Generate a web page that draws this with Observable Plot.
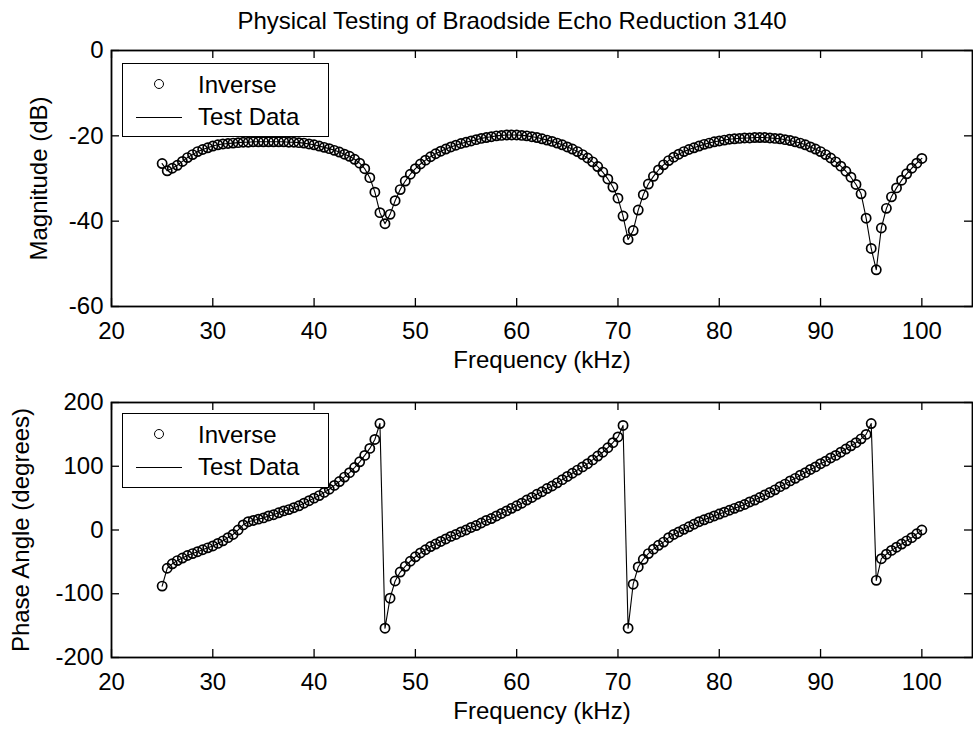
<!DOCTYPE html>
<html>
<head>
<meta charset="utf-8">
<script src="https://cdn.jsdelivr.net/npm/d3@7"></script>
<script src="https://cdn.jsdelivr.net/npm/@observablehq/plot@0.6"></script>
<style>
  body { margin: 0; background: #fff; }
  #chart { position: relative; width: 973px; height: 732px; background: #fff;
           font-family: "Liberation Sans", Arial, Helvetica, sans-serif; color: #000; }
  #p1 { position: absolute; left: 0; top: 0; }
  #p2 { position: absolute; left: 0; top: 380px; }
  .legend { position: absolute; left: 122px; width: 207px; box-sizing: border-box;
            border: 1.5px solid #000; background: #fff; font-size: 24px; }
  .legend .mk { position: absolute; left: 31px; top: 15px; width: 10px; height: 10px;
                box-sizing: border-box; border: 1.8px solid #000; border-radius: 50%; }
  .legend .ln { position: absolute; left: 13px; top: 53px; width: 46px; height: 0;
                border-top: 1.2px solid #000; }
  .legend .t1 { position: absolute; left: 75px; top: 7px; line-height: 28px; white-space: nowrap; }
  .legend .t2 { position: absolute; left: 75px; top: 39px; line-height: 28px; white-space: nowrap; }
</style>
</head>
<body>
<div id="chart">
  <div id="p1"></div>
  <div id="p2"></div>
</div>
<script>
// ---------------- data ----------------
const chartTitle = "Physical Testing of Braodside Echo Reduction 3140";
const xLabel = "Frequency (kHz)";
const magLabel = "Magnitude (dB)";
const phaseLabel = "Phase Angle (degrees)";
const seriesNames = ["Inverse", "Test Data"];

const xTicks = [20, 30, 40, 50, 60, 70, 80, 90, 100];
const magTicks = [-60, -40, -20, 0];
const phaseTicks = [-200, -100, 0, 100, 200];

// frequency (kHz)
const freq = [
  25, 25.5, 26, 26.5, 27, 27.5, 28, 28.5, 29, 29.5,
  30, 30.5, 31, 31.5, 32, 32.5, 33, 33.5, 34, 34.5,
  35, 35.5, 36, 36.5, 37, 37.5, 38, 38.5, 39, 39.5,
  40, 40.5, 41, 41.5, 42, 42.5, 43, 43.5, 44, 44.5,
  45, 45.5, 46, 46.5, 47, 47.5, 48, 48.5, 49, 49.5,
  50, 50.5, 51, 51.5, 52, 52.5, 53, 53.5, 54, 54.5,
  55, 55.5, 56, 56.5, 57, 57.5, 58, 58.5, 59, 59.5,
  60, 60.5, 61, 61.5, 62, 62.5, 63, 63.5, 64, 64.5,
  65, 65.5, 66, 66.5, 67, 67.5, 68, 68.5, 69, 69.5,
  70, 70.5, 71, 71.5, 72, 72.5, 73, 73.5, 74, 74.5,
  75, 75.5, 76, 76.5, 77, 77.5, 78, 78.5, 79, 79.5,
  80, 80.5, 81, 81.5, 82, 82.5, 83, 83.5, 84, 84.5,
  85, 85.5, 86, 86.5, 87, 87.5, 88, 88.5, 89, 89.5,
  90, 90.5, 91, 91.5, 92, 92.5, 93, 93.5, 94, 94.5,
  95, 95.5, 96, 96.5, 97, 97.5, 98, 98.5, 99, 99.5,
  100
];

// magnitude (dB)
const magnitude = [
  -26.5, -28.2, -27.6, -26.9, -26.0, -25.1, -24.4, -23.7, -23.2, -22.8,
  -22.4, -22.1, -21.9, -21.8, -21.7, -21.6, -21.5, -21.5, -21.4, -21.4,
  -21.4, -21.4, -21.4, -21.4, -21.4, -21.5, -21.5, -21.6, -21.7, -21.9,
  -22.1, -22.4, -22.7, -23.0, -23.4, -23.8, -24.3, -24.8, -25.5, -26.4,
  -27.7, -29.8, -33.2, -38.0, -40.6, -38.4, -35.2, -32.6, -30.6, -29.0,
  -27.7, -26.6, -25.7, -24.9, -24.2, -23.6, -23.1, -22.6, -22.2, -21.8,
  -21.5, -21.2, -20.9, -20.6, -20.4, -20.2, -20.0, -19.9, -19.8, -19.8,
  -19.8, -19.9, -20.0, -20.2, -20.4, -20.7, -21.0, -21.3, -21.7, -22.1,
  -22.6, -23.1, -23.7, -24.4, -25.2, -26.1, -27.2, -28.5, -30.1, -32.0,
  -34.6, -38.8, -44.3, -42.2, -37.4, -33.8, -31.3, -29.5, -28.0, -26.8,
  -25.8, -25.0, -24.3, -23.7, -23.2, -22.8, -22.4, -22.0, -21.7, -21.4,
  -21.2, -21.0, -20.8, -20.7, -20.6, -20.5, -20.5, -20.4, -20.4, -20.4,
  -20.5, -20.6, -20.7, -20.9, -21.1, -21.4, -21.7, -22.1, -22.6, -23.1,
  -23.7, -24.4, -25.2, -26.1, -27.1, -28.3, -29.7, -31.4, -33.6, -39.3,
  -46.4, -51.4, -41.6, -37.0, -34.3, -32.2, -30.4, -28.9, -27.6, -26.4,
  -25.3
];

// phase angle (degrees)
const phase = [
  -88, -60, -53, -48, -44, -40, -37, -34, -31, -28,
  -25, -21, -17, -12, -7, 0, 8, 13, 15, 17,
  19, 22, 24, 27, 30, 32, 35, 38, 42, 46,
  50, 54, 59, 64, 70, 76, 83, 90, 98, 107,
  117, 128, 142, 167, -154, -107, -80, -66, -57, -49,
  -42, -36, -31, -26, -22, -18, -14, -10, -7, -3,
  0, 4, 7, 11, 15, 18, 22, 26, 30, 34,
  38, 42, 47, 51, 56, 60, 65, 69, 74, 79,
  84, 89, 94, 99, 104, 110, 116, 122, 129, 137,
  146, 164, -154, -85, -58, -46, -37, -30, -24, -19,
  -12, -7, -3, 1, 5, 9, 13, 16, 19, 22,
  25, 28, 31, 34, 37, 40, 44, 47, 51, 55,
  59, 63, 68, 72, 77, 81, 86, 90, 95, 99,
  104, 108, 113, 117, 122, 127, 132, 137, 143, 150,
  167, -79, -45, -38, -32, -27, -22, -17, -12, -6,
  0
];

// ---------------- drawing ----------------
const FONT = '"Liberation Sans", Arial, Helvetica, sans-serif';
const FS = 24;
const W = 973, ML = 111, MR = 1;
const plotW = W - ML - MR;

function panel({values, yDomain, yTicks, yLabel, yLabelDx, height, marginTop, marginBottom, title}) {
  const rows = freq.map((f, i) => ({f, v: values[i]}));
  const plotH = height - marginTop - marginBottom;
  const marks = [
    Plot.line(rows, {x: "f", y: "v", stroke: "#000", strokeWidth: 1.1}),
    Plot.dot(rows, {x: "f", y: "v", r: 4.6, stroke: "#000", strokeWidth: 1.7, fill: "none"}),
    // inward ticks on all four sides (box style)
    Plot.tickX(xTicks, {x: d => d, insetTop: plotH - 8, stroke: "#000", strokeWidth: 1.3}),
    Plot.tickX(xTicks, {x: d => d, insetBottom: plotH - 8, stroke: "#000", strokeWidth: 1.3}),
    Plot.tickY(yTicks, {y: d => d, insetRight: plotW - 8, stroke: "#000", strokeWidth: 1.3}),
    Plot.tickY(yTicks, {y: d => d, insetLeft: plotW - 8, stroke: "#000", strokeWidth: 1.3}),
    Plot.frame({stroke: "#000", strokeWidth: 1.8}),
    Plot.axisX({ticks: xTicks, tickSize: 0, tickPadding: 15, label: null, tickFormat: d => String(d),
                fontSize: FS, fill: "#000"}),
    Plot.axisY({ticks: yTicks, tickSize: 0, tickPadding: 8, label: null, tickFormat: d => String(d),
                fontSize: FS, fill: "#000"}),
    Plot.text([xLabel], {text: d => d, frameAnchor: "bottom", lineAnchor: "bottom", textAnchor: "middle",
                         dy: 61, fontSize: FS, fill: "#000"}),
    Plot.text([yLabel], {text: d => d, frameAnchor: "left", lineAnchor: "bottom", textAnchor: "middle",
                         rotate: -90, dx: yLabelDx, fontSize: FS, fill: "#000"})
  ];
  if (title) {
    marks.push(Plot.text([title], {text: d => d, frameAnchor: "top", lineAnchor: "bottom", textAnchor: "middle",
                                   dy: -22, dx: -30, fontSize: FS, fill: "#000"}));
  }
  return Plot.plot({
    width: W, height, marginLeft: ML, marginRight: MR, marginTop, marginBottom,
    x: {domain: [20, 105]},
    y: {domain: yDomain},
    style: {fontFamily: FONT, fontSize: FS + "px", color: "#000", background: "#fff", overflow: "visible"},
    marks
  });
}

document.getElementById("p1").appendChild(panel({
  values: magnitude, yDomain: [-60, 0], yTicks: magTicks, yLabel: magLabel, yLabelDx: -65,
  height: 380, marginTop: 50, marginBottom: 74, title: chartTitle
}));
document.getElementById("p2").appendChild(panel({
  values: phase, yDomain: [-200, 200], yTicks: phaseTicks, yLabel: phaseLabel, yLabelDx: -83,
  height: 352, marginTop: 22, marginBottom: 75
}));

// legends (one per panel)
const chart = document.getElementById("chart");
[[63, 74], [413, 75]].forEach(([top, h]) => {
  const lg = document.createElement("div");
  lg.className = "legend";
  lg.style.top = top + "px";
  lg.style.height = h + "px";
  const mk = document.createElement("span"); mk.className = "mk";
  const t1 = document.createElement("span"); t1.className = "t1"; t1.textContent = seriesNames[0];
  const ln = document.createElement("span"); ln.className = "ln";
  const t2 = document.createElement("span"); t2.className = "t2"; t2.textContent = seriesNames[1];
  lg.append(mk, t1, ln, t2);
  chart.appendChild(lg);
});
</script>
</body>
</html>
